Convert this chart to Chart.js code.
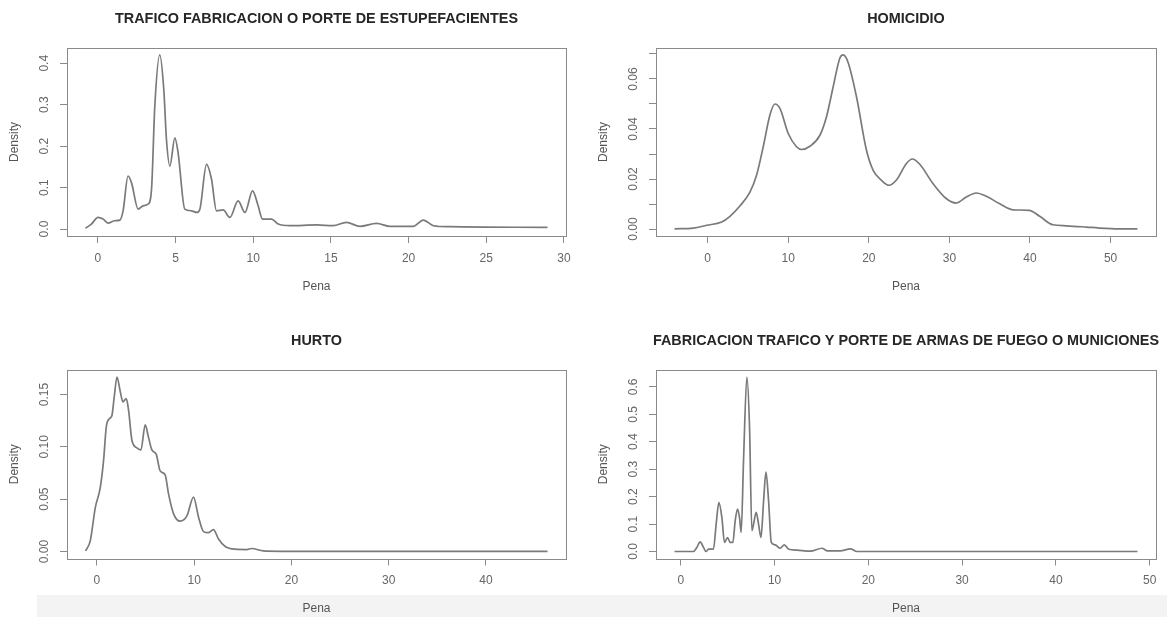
<!DOCTYPE html>
<html>
<head>
<meta charset="utf-8">
<script src="https://cdn.jsdelivr.net/npm/chart.js@4/dist/chart.umd.min.js"></script>
<style>
html, body { margin: 0; padding: 0; background: #ffffff; width: 1167px; height: 617px; overflow: hidden; position: relative; }
#band { position: absolute; left: 37px; top: 595px; width: 1130px; height: 22px; background: #f3f3f3; }
canvas { position: absolute; }
</style>
</head>
<body>
<div id="band"></div>
<canvas id="c1"></canvas>
<canvas id="c2"></canvas>
<canvas id="c3"></canvas>
<canvas id="c4"></canvas>
<script>
// ---------------- DATA ----------------
const titles = [
  'TRAFICO FABRICACION O PORTE DE ESTUPEFACIENTES',
  'HOMICIDIO',
  'HURTO',
  'FABRICACION TRAFICO Y PORTE DE ARMAS DE FUEGO O MUNICIONES'
];
const xAxisTitle = 'Pena';
const yAxisTitle = 'Density';

// Panel 1: TRAFICO FABRICACION O PORTE DE ESTUPEFACIENTES
const traficoX = [-0.79, -0.41, 0.02, 0.34, 0.66, 1.09, 1.42, 1.63, 1.95, 2.17, 2.6, 2.92, 3.24, 3.46, 3.67, 3.99, 4.25, 4.42, 4.64, 4.96, 5.17, 5.6, 6.03, 6.36, 6.57, 7.0, 7.32, 7.64, 8.07, 8.5, 9.03, 9.47, 9.96, 10.32, 10.6, 11.18, 11.61, 12.36, 14.08, 15.15, 16.0, 16.87, 17.94, 18.8, 20.3, 20.95, 21.6, 22.67, 28.94];
const traficoY = [0.002, 0.012, 0.028, 0.024, 0.0144, 0.020, 0.0216, 0.044, 0.128, 0.112, 0.048, 0.056, 0.06, 0.096, 0.296, 0.42, 0.336, 0.216, 0.152, 0.22, 0.184, 0.048, 0.044, 0.04, 0.048, 0.156, 0.12, 0.044, 0.046, 0.028, 0.068, 0.04, 0.092, 0.056, 0.024, 0.024, 0.012, 0.008, 0.010, 0.008, 0.016, 0.0064, 0.0136, 0.0064, 0.0064, 0.0216, 0.008, 0.0056, 0.004];
const traficoXTicks = [0, 5, 10, 15, 20, 25, 30];
const traficoXTickLabels = ['0', '5', '10', '15', '20', '25', '30'];
const traficoYTicks = [0, 0.1, 0.2, 0.3, 0.4];
const traficoYTickLabels = ['0.0', '0.1', '0.2', '0.3', '0.4'];

// Panel 2: HOMICIDIO
const homicidioX = [-4.11, -1.78, -0.12, 1.74, 2.77, 4.0, 5.25, 6.07, 6.9, 7.73, 8.35, 8.97, 10.0, 11.03, 11.65, 12.69, 13.93, 14.75, 15.58, 16.4, 16.8, 17.4, 18.47, 19.71, 20.54, 21.57, 22.5, 23.4, 24.67, 25.4, 26.3, 27.96, 29.6, 30.85, 32.1, 33.33, 34.57, 36.2, 37.87, 39.9, 41.2, 42.83, 44.5, 46.96, 48.6, 51.1, 53.34];
const homicidioY = [0.0001, 0.0004, 0.0015, 0.0028, 0.0051, 0.0092, 0.0148, 0.0215, 0.0329, 0.0456, 0.0500, 0.0482, 0.0382, 0.0329, 0.0318, 0.0331, 0.0375, 0.0449, 0.0569, 0.0683, 0.0696, 0.0669, 0.0529, 0.0315, 0.0235, 0.0195, 0.0175, 0.0195, 0.0262, 0.0280, 0.0260, 0.0182, 0.0122, 0.0104, 0.0128, 0.0144, 0.0131, 0.0102, 0.0077, 0.0075, 0.0051, 0.0017, 0.0013, 0.0008, 0.0004, 0.0001, 0.0001];
const homicidioXTicks = [0, 10, 20, 30, 40, 50];
const homicidioXTickLabels = ['0', '10', '20', '30', '40', '50'];
const homicidioYTicks = [0, 0.01, 0.02, 0.03, 0.04, 0.05, 0.06, 0.07];
const homicidioYTickLabels = ['0.00', '', '0.02', '', '0.04', '', '0.06', ''];

// Panel 3: HURTO
const hurtoX = [-1.18, -0.69, -0.17, 0.34, 0.68, 0.96, 1.3, 1.54, 1.78, 2.06, 2.39, 2.67, 3.01, 3.25, 3.6, 4.11, 4.52, 4.96, 5.3, 5.65, 6.09, 6.5, 7.02, 7.36, 7.88, 8.56, 9.25, 9.93, 10.44, 10.96, 11.47, 11.98, 12.5, 13.19, 14.2, 15.4, 15.93, 17.1, 19.2, 25, 35, 46.33];
const hurtoY = [0.0005, 0.0102, 0.042, 0.061, 0.087, 0.119, 0.127, 0.130, 0.148, 0.1667, 0.153, 0.143, 0.146, 0.135, 0.106, 0.099, 0.097, 0.121, 0.109, 0.097, 0.093, 0.077, 0.073, 0.055, 0.036, 0.029, 0.034, 0.052, 0.033, 0.019, 0.018, 0.021, 0.012, 0.0048, 0.0022, 0.0019, 0.0029, 0.0006, 0.0002, 0.0001, 0.0001, 0.0001];
const hurtoXTicks = [0, 10, 20, 30, 40];
const hurtoXTickLabels = ['0', '10', '20', '30', '40'];
const hurtoYTicks = [0, 0.05, 0.10, 0.15];
const hurtoYTickLabels = ['0.00', '0.05', '0.10', '0.15'];

// Panel 4: FABRICACION TRAFICO Y PORTE DE ARMAS DE FUEGO O MUNICIONES
const armasX = [-0.67, 1.35, 1.71, 2.06, 2.42, 2.7, 2.95, 3.48, 3.77, 4.06, 4.38, 4.66, 4.98, 5.27, 5.55, 5.8, 6.05, 6.26, 6.44, 6.69, 7.05, 7.33, 7.58, 7.76, 8.04, 8.29, 8.55, 8.83, 9.08, 9.36, 9.65, 10.07, 10.6, 11.04, 11.5, 12.39, 13.8, 15.06, 15.6, 17.0, 18.09, 18.8, 30, 48.7];
const armasY = [0.0, 0.0, 0.015, 0.035, 0.015, 0.0, 0.0085, 0.0085, 0.1, 0.179, 0.124, 0.033, 0.051, 0.033, 0.033, 0.112, 0.155, 0.124, 0.07, 0.332, 0.636, 0.454, 0.076, 0.1, 0.143, 0.1, 0.051, 0.185, 0.289, 0.185, 0.033, 0.024, 0.012, 0.024, 0.0085, 0.005, 0.0012, 0.012, 0.0024, 0.0024, 0.0098, 0.0, 0.0, 0.0];
const armasXTicks = [0, 10, 20, 30, 40, 50];
const armasXTickLabels = ['0', '10', '20', '30', '40', '50'];
const armasYTicks = [0, 0.1, 0.2, 0.3, 0.4, 0.5, 0.6];
const armasYTickLabels = ['0.0', '0.1', '0.2', '0.3', '0.4', '0.5', '0.6'];

// ---------------- LAYOUT / STYLE ----------------
const FONT = '"Liberation Sans", Arial, Helvetica, sans-serif';
const LEFT_W = 67, RIGHT_W = 67, X_H = 64, TOP_H = 48;
const TICK_LEN = 7;
const COL_TITLE = '#262626', COL_TICKLAB = '#666666', COL_AXTITLE = '#555555', COL_BOX = '#8a8a8a', COL_LINE = '#7a7a7a';

const layoutSpec = [
  { id: 'c1', left: 0,   top: 0,   plotW: 499, plotH: 188,   padB: 0 },
  { id: 'c2', left: 589, top: 0,   plotW: 500, plotH: 188,   padB: 0 },
  { id: 'c3', left: 0,   top: 322, plotW: 499, plotH: 188.5, padB: 0.5 },
  { id: 'c4', left: 589, top: 322, plotW: 500, plotH: 188.5, padB: 0.5 }
];

const series = [
  { xs: traficoX, ys: traficoY, xt: traficoXTicks, xl: traficoXTickLabels, yt: traficoYTicks, yl: traficoYTickLabels },
  { xs: homicidioX, ys: homicidioY, xt: homicidioXTicks, xl: homicidioXTickLabels, yt: homicidioYTicks, yl: homicidioYTickLabels },
  { xs: hurtoX, ys: hurtoY, xt: hurtoXTicks, xl: hurtoXTickLabels, yt: hurtoYTicks, yl: hurtoYTickLabels },
  { xs: armasX, ys: armasY, xt: armasXTicks, xl: armasXTickLabels, yt: armasYTicks, yl: armasYTickLabels }
];

// R-style axis range: data range extended by 4% on each side
function rRange(lo, hi) { const d = hi - lo; return [lo - 0.04 * d, hi + 0.04 * d]; }

const measureCtx = document.createElement('canvas').getContext('2d');
measureCtx.font = '12px ' + FONT;
function widest(labels) { return Math.max(...labels.map(l => measureCtx.measureText(l).width)); }

const boxPlugin = {
  id: 'rbox',
  afterDraw(chart) {
    const a = chart.chartArea, ctx = chart.ctx;
    ctx.save();
    ctx.strokeStyle = COL_BOX;
    ctx.lineWidth = 1;
    ctx.strokeRect(Math.round(a.left) + 0.5, Math.round(a.top) + 0.5, Math.round(a.right - a.left), Math.round(a.bottom - a.top));
    ctx.restore();
  }
};

Chart.defaults.font.family = FONT;
Chart.defaults.animation = false;

series.forEach((s, i) => {
  const L = layoutSpec[i];
  const cv = document.getElementById(L.id);
  const W = LEFT_W + L.plotW + RIGHT_W;
  const H = Math.round(TOP_H + L.plotH + X_H + L.padB);
  cv.width = W; cv.height = H;
  cv.style.left = L.left + 'px'; cv.style.top = L.top + 'px';
  cv.style.width = W + 'px'; cv.style.height = H + 'px';

  const xr = rRange(Math.min(...s.xs), Math.max(...s.xs));
  const yr = rRange(0, Math.max(...s.ys));
  const yPad = 22 - TICK_LEN - widest(s.yl) / 2;

  new Chart(cv, {
    type: 'line',
    data: {
      datasets: [{
        data: s.xs.map((x, k) => ({ x: x, y: s.ys[k] })),
        borderColor: COL_LINE,
        borderWidth: 1.7,
        pointRadius: 0,
        fill: false,
        cubicInterpolationMode: 'monotone'
      }]
    },
    options: {
      responsive: false,
      devicePixelRatio: 1,
      layout: { padding: { left: 0, right: 0, top: 0, bottom: L.padB }, autoPadding: false },
      plugins: {
        legend: { display: false },
        tooltip: { enabled: false },
        title: {
          display: true,
          text: titles[i],
          color: COL_TITLE,
          font: { size: 14.4, weight: 'bold', family: FONT, lineHeight: 1.2 },
          padding: { top: 10.82, bottom: 19.9 }
        }
      },
      scales: {
        x: {
          type: 'linear',
          position: 'bottom',
          min: xr[0], max: xr[1],
          afterBuildTicks: (ax) => { ax.ticks = s.xt.map(v => ({ value: v })); },
          afterFit: (ax) => { ax.height = X_H; },
          ticks: {
            autoSkip: false, maxRotation: 0, minRotation: 0,
            padding: 22.3 - TICK_LEN - 7.2,
            color: COL_TICKLAB,
            font: { size: 12, family: FONT },
            callback: (v, k) => s.xl[k]
          },
          grid: { drawOnChartArea: false, drawTicks: true, tickLength: TICK_LEN, color: COL_BOX, tickColor: COL_BOX, lineWidth: 1 },
          border: { display: false },
          title: { display: true, text: xAxisTitle, color: COL_AXTITLE, font: { size: 12, family: FONT }, padding: { top: 0, bottom: 6.3 } }
        },
        y: {
          type: 'linear',
          position: 'left',
          min: yr[0], max: yr[1],
          afterBuildTicks: (ax) => { ax.ticks = s.yt.map(v => ({ value: v })); },
          afterFit: (ax) => { ax.width = LEFT_W; },
          ticks: {
            autoSkip: false, minRotation: 90, maxRotation: 90,
            crossAlign: 'center',
            padding: yPad,
            color: COL_TICKLAB,
            font: { size: 12, family: FONT },
            callback: (v, k) => s.yl[k]
          },
          grid: { drawOnChartArea: false, drawTicks: true, tickLength: TICK_LEN, color: COL_BOX, tickColor: COL_BOX, lineWidth: 1 },
          border: { display: false },
          title: { display: true, text: yAxisTitle, color: COL_AXTITLE, font: { size: 12, family: FONT }, padding: { top: 7.3, bottom: 0 } }
        },
        y2: {
          type: 'linear',
          position: 'right',
          display: true,
          afterFit: (ax) => { ax.width = RIGHT_W; },
          ticks: { display: false },
          grid: { display: false, drawTicks: false },
          border: { display: false }
        }
      }
    },
    plugins: [boxPlugin]
  });
});
</script>
</body>
</html>
